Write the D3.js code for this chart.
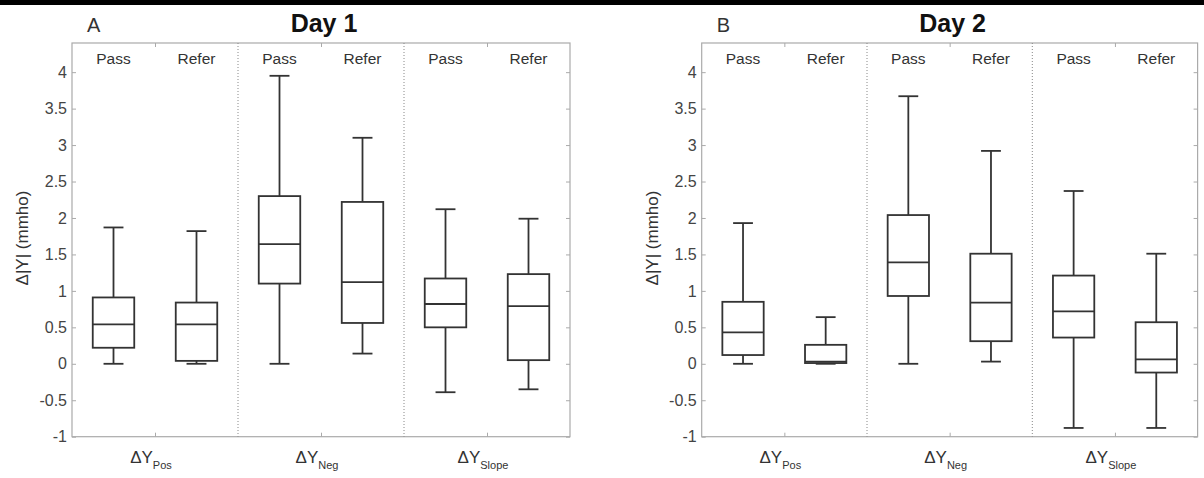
<!DOCTYPE html>
<html>
<head>
<meta charset="utf-8">
<script src="https://cdn.jsdelivr.net/npm/d3@7"></script>
<style>
  body { margin: 0; background: #fff; }
  text { font-family: "Liberation Sans", Arial, sans-serif; }
</style>
</head>
<body>
<div id="chart"></div>
<script>
var W = 1204, H = 478;

// categories
var groups = ["Pos", "Neg", "Slope"];
var statuses = ["Pass", "Refer"];
var yTicks = [-1, -0.5, 0, 0.5, 1, 1.5, 2, 2.5, 3, 3.5, 4];

// [lower whisker, q1, median, q3, upper whisker], order: Pos-Pass, Pos-Refer, Neg-Pass, Neg-Refer, Slope-Pass, Slope-Refer
var day1Stats = [
  [0, 0.22, 0.54, 0.91, 1.87],
  [0, 0.04, 0.54, 0.84, 1.82],
  [0, 1.10, 1.64, 2.30, 3.95],
  [0.14, 0.56, 1.12, 2.22, 3.10],
  [-0.39, 0.50, 0.82, 1.17, 2.12],
  [-0.35, 0.05, 0.79, 1.23, 1.99]
];
var day2Stats = [
  [0, 0.12, 0.43, 0.85, 1.93],
  [0, 0.01, 0.03, 0.26, 0.64],
  [0, 0.93, 1.39, 2.04, 3.67],
  [0.03, 0.31, 0.84, 1.51, 2.92],
  [-0.88, 0.36, 0.72, 1.21, 2.37],
  [-0.88, -0.12, 0.06, 0.57, 1.51]
];

var svg = d3.select("#chart").append("svg")
  .attr("width", W).attr("height", H);

// black strip at the top of the scan
svg.append("rect").attr("x", 0).attr("y", 0).attr("width", W).attr("height", 5).attr("fill", "#000");

var plotTop = 43, plotBottom = 436.7;
var y = d3.scaleLinear().domain([-1, 4.4]).range([plotBottom, plotTop]);

function drawPanel(left, right, letter, title, stats) {
  var x = d3.scaleLinear().domain([0.5, 3.5]).range([left, right]);
  var g = svg.append("g");

  // frame
  g.append("rect")
    .attr("x", left).attr("y", plotTop)
    .attr("width", right - left).attr("height", plotBottom - plotTop)
    .attr("fill", "none").attr("stroke", "#aaa").attr("stroke-width", 1.2);

  // dotted separators
  g.selectAll(".sep").data([1.5, 2.5]).enter().append("line")
    .attr("x1", function(d) { return x(d); }).attr("x2", function(d) { return x(d); })
    .attr("y1", plotTop).attr("y2", plotBottom)
    .attr("stroke", "#888").attr("stroke-dasharray", "1,2");

  // axes (ticks inward)
  var fmt = function(d) { return String(d); };
  var ax = g.append("g").attr("transform", "translate(" + left + ",0)")
    .call(d3.axisLeft(y).tickValues(yTicks).tickSize(-4).tickPadding(5).tickFormat(fmt));
  g.append("g").attr("transform", "translate(" + right + ",0)")
    .call(d3.axisRight(y).tickValues(yTicks).tickSize(-4).tickFormat(""));
  g.append("g").attr("transform", "translate(0," + plotBottom + ")")
    .call(d3.axisBottom(x).tickValues([1, 2, 3]).tickSize(-4).tickFormat(""));
  g.append("g").attr("transform", "translate(0," + plotTop + ")")
    .call(d3.axisTop(x).tickValues([1, 2, 3]).tickSize(-4).tickFormat(""));
  g.selectAll(".domain").remove();
  g.selectAll(".tick line").attr("stroke", "#aaa");
  ax.selectAll("text").attr("font-size", 16).attr("fill", "#444")
    .attr("font-family", "'Liberation Sans', Arial, sans-serif");

  // boxes
  var boxes = [];
  stats.forEach(function(s, i) {
    boxes.push({pos: Math.floor(i / 2) + 1 + (i % 2 === 0 ? -0.25 : 0.25), s: s});
  });
  var bw = 0.125, cw = 0.06;
  var b = g.selectAll(".box").data(boxes).enter().append("g")
    .attr("fill", "none").attr("stroke", "#333").attr("stroke-width", 1.8);
  b.append("line")
    .attr("x1", function(d) { return x(d.pos); }).attr("x2", function(d) { return x(d.pos); })
    .attr("y1", function(d) { return y(d.s[0]); }).attr("y2", function(d) { return y(d.s[1]); });
  b.append("line")
    .attr("x1", function(d) { return x(d.pos); }).attr("x2", function(d) { return x(d.pos); })
    .attr("y1", function(d) { return y(d.s[3]); }).attr("y2", function(d) { return y(d.s[4]); });
  [0, 4].forEach(function(k) {
    b.append("line")
      .attr("x1", function(d) { return x(d.pos - cw); }).attr("x2", function(d) { return x(d.pos + cw); })
      .attr("y1", function(d) { return y(d.s[k]); }).attr("y2", function(d) { return y(d.s[k]); });
  });
  b.append("rect")
    .attr("x", function(d) { return x(d.pos - bw); })
    .attr("width", function(d) { return x(d.pos + bw) - x(d.pos - bw); })
    .attr("y", function(d) { return y(d.s[3]); })
    .attr("height", function(d) { return y(d.s[1]) - y(d.s[3]); });
  b.append("line")
    .attr("x1", function(d) { return x(d.pos - bw); }).attr("x2", function(d) { return x(d.pos + bw); })
    .attr("y1", function(d) { return y(d.s[2]); }).attr("y2", function(d) { return y(d.s[2]); });

  // Pass / Refer labels
  g.selectAll(".st").data(boxes).enter().append("text")
    .attr("x", function(d) { return x(d.pos); }).attr("y", 64)
    .attr("text-anchor", "middle").attr("font-size", 15.5).attr("fill", "#333")
    .text(function(d, i) { return statuses[i % 2]; });

  // group labels with subscripts
  var gl = g.selectAll(".gl").data(groups).enter().append("text")
    .attr("x", function(d, i) { return x(i + 1) - 4; }).attr("y", 463)
    .attr("text-anchor", "middle").attr("fill", "#333");
  gl.append("tspan").attr("font-size", 17).text("ΔY");
  gl.append("tspan").attr("font-size", 11).attr("dy", 6).text(function(d) { return d; });

  // y label
  g.append("text")
    .attr("transform", "translate(" + (left - 44) + "," + 238 + ") rotate(-90)")
    .attr("text-anchor", "middle").attr("font-size", 17).attr("fill", "#333")
    .text("Δ|Y| (mmho)");

  // letter and title
  g.append("text").attr("x", left + 15).attr("y", 32)
    .attr("font-size", 20).attr("fill", "#333").text(letter);
  g.append("text").attr("x", (left + right) / 2 + 3).attr("y", 32)
    .attr("text-anchor", "middle").attr("font-size", 25).attr("font-weight", "bold")
    .attr("fill", "#111").text(title);
}

drawPanel(72, 570, "A", "Day 1", day1Stats);
drawPanel(701.7, 1197.6, "B", "Day 2", day2Stats);
</script>
</body>
</html>
